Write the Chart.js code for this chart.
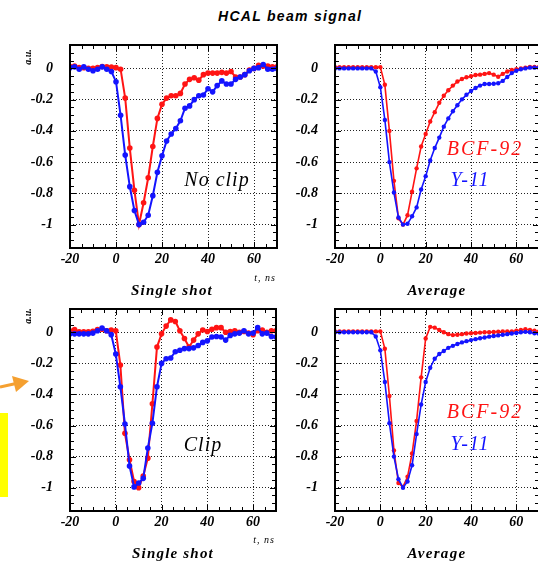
<!DOCTYPE html>
<html>
<head>
<meta charset="utf-8">
<script src="https://cdn.jsdelivr.net/npm/chart.js@4/dist/chart.umd.min.js"></script>
<style>
  html, body { margin: 0; padding: 0; background: #fff; }
  body { width: 538px; height: 563px; position: relative; overflow: hidden; }
  canvas { position: absolute; }
  .txt { position: absolute; white-space: nowrap; transform: translate(-50%, -50%); line-height: 1; }
  .serif { font-family: "Liberation Serif", "Times New Roman", serif; font-style: italic; }
</style>
</head>
<body>
<div class="txt" style="left:218px;top:16px;transform:translate(0,-50%);font:italic bold 14px 'Liberation Sans',Arial,sans-serif;letter-spacing:1.3px;">HCAL beam signal</div>

<canvas id="c-tl"></canvas>
<canvas id="c-tr"></canvas>
<canvas id="c-bl"></canvas>
<canvas id="c-br"></canvas>

<!-- textos de los paneles -->
<div class="txt serif" style="left:28px;top:57px;font-size:10px;font-weight:bold;transform:translate(-50%,-50%) rotate(-90deg);">a.u.</div>
<div class="txt serif" style="left:265px;top:278px;font-size:10px;letter-spacing:1px;">t, ns</div>
<div class="txt serif" style="left:172px;top:290px;font-size:15px;font-weight:bold;letter-spacing:1.2px;">Single shot</div>
<div class="txt serif" style="left:437px;top:290px;font-size:15px;font-weight:bold;letter-spacing:1.3px;">Average</div>
<div class="txt serif" style="left:217px;top:179px;font-size:20px;letter-spacing:1px;">No clip</div>
<div class="txt serif" style="left:485px;top:148px;font-size:20px;letter-spacing:2px;color:#ff1414;">BCF-92</div>
<div class="txt serif" style="left:470px;top:179px;font-size:20px;letter-spacing:1px;color:#1414ff;">Y-11</div>

<div class="txt serif" style="left:28px;top:316px;font-size:10px;font-weight:bold;transform:translate(-50%,-50%) rotate(-90deg);">a.u.</div>
<div class="txt serif" style="left:264px;top:540px;font-size:10px;letter-spacing:1px;">t, ns</div>
<div class="txt serif" style="left:173px;top:553px;font-size:15px;font-weight:bold;letter-spacing:1.2px;">Single shot</div>
<div class="txt serif" style="left:437px;top:553px;font-size:15px;font-weight:bold;letter-spacing:1.3px;">Average</div>
<div class="txt serif" style="left:203px;top:444px;font-size:20px;letter-spacing:1px;">Clip</div>
<div class="txt serif" style="left:485px;top:411px;font-size:20px;letter-spacing:2px;color:#ff1414;">BCF-92</div>
<div class="txt serif" style="left:470px;top:443px;font-size:20px;letter-spacing:1px;color:#1414ff;">Y-11</div>

<!-- restos de la diapositiva: flecha naranja y recuadro amarillo -->
<svg style="position:absolute;left:0;top:370px;" width="32" height="30">
  <line x1="0" y1="17" x2="16" y2="13.5" stroke="#f5a030" stroke-width="3"/>
  <polygon points="12,6 29,11 16,22" fill="#f5a030"/>
</svg>
<div style="position:absolute;left:0;top:413px;width:8px;height:84px;background:#ffff00;"></div>

<script>
// tiempo en ns (muestras cada 2 ns)
const timeNs = [-20, -18, -16, -14, -12, -10, -8, -6, -4, -2, 0, 2, 4, 6, 8, 10, 12, 14, 16, 18,
                20, 22, 24, 26, 28, 30, 32, 34, 36, 38, 40, 42, 44, 46, 48, 50, 52, 54, 56, 58,
                60, 62, 64, 66, 68, 70];

// No clip, single shot
const noClipShotBCF92 = [0.012, 0.015, 0.005, 0.005, 0, 0, 0.005, 0.012, 0.01, 0.008, 0.005, -0.005, -0.19, -0.51, -0.78, -1.0, -0.86, -0.70, -0.50, -0.32,
                         -0.23, -0.19, -0.175, -0.175, -0.16, -0.10, -0.07, -0.06, -0.075, -0.04, -0.03, -0.03, -0.03, -0.025, -0.03, -0.02, -0.055, -0.055, -0.04, -0.01,
                         0, 0.02, 0.015, 0.015, 0.01, 0.01];
const noClipShotY11 = [0.005, 0.01, -0.005, 0.01, -0.005, -0.015, -0.005, 0.01, -0.005, -0.02, -0.085, -0.30, -0.555, -0.757, -0.91, -1.0, -0.985, -0.94, -0.815, -0.665,
                       -0.56, -0.465, -0.42, -0.385, -0.335, -0.255, -0.24, -0.20, -0.175, -0.17, -0.13, -0.15, -0.11, -0.08, -0.10, -0.10, -0.07, -0.055, -0.04, -0.015,
                       0, 0.005, 0.025, -0.005, -0.005, 0];

// No clip, average
const noClipAvgBCF92 = [0.008, 0.008, 0.008, 0.008, 0.008, 0.008, 0.008, 0.008, 0.008, 0.008, 0.008, -0.105, -0.40, -0.72, -0.96, -1.0, -0.94, -0.79, -0.64, -0.50,
                        -0.42, -0.34, -0.28, -0.22, -0.175, -0.14, -0.11, -0.084, -0.068, -0.057, -0.05, -0.042, -0.04, -0.035, -0.03, -0.04, -0.053, -0.035, -0.02, -0.01,
                        -0.005, 0, 0.005, 0.01, 0.01, 0.01];
const noClipAvgY11 = [0, 0, 0, 0, 0, 0, 0, 0, 0, -0.02, -0.12, -0.33, -0.60, -0.795, -0.955, -1.0, -0.995, -0.947, -0.89, -0.775,
                      -0.69, -0.59, -0.51, -0.443, -0.373, -0.32, -0.274, -0.236, -0.198, -0.169, -0.145, -0.125, -0.11, -0.10, -0.10, -0.098, -0.095, -0.08, -0.055, -0.03,
                      -0.015, -0.005, 0, 0.005, 0.005, 0.005];

// Clip, single shot
const clipShotBCF92 = [0.01, 0.017, 0.004, 0.004, 0.004, 0.006, 0.017, 0.02, 0.01, 0.015, 0.01, -0.21, -0.65, -0.82, -0.96, -1.0, -0.925, -0.81, -0.46, -0.095,
                       -0.01, 0.04, 0.08, 0.07, 0.01, -0.04, -0.095, -0.05, -0.01, 0.015, 0.005, 0.02, 0.03, 0.03, 0, 0.005, 0.01, 0, 0.005, -0.005,
                       -0.015, 0.01, 0.015, 0, 0.01, 0.01];
const clipShotY11 = [-0.01, -0.01, -0.01, -0.01, -0.01, -0.005, 0.01, 0.027, 0.01, -0.015, -0.14, -0.35, -0.59, -0.86, -0.995, -0.97, -0.94, -0.745, -0.585, -0.35,
                     -0.2, -0.17, -0.165, -0.125, -0.115, -0.105, -0.105, -0.1, -0.085, -0.065, -0.055, -0.03, -0.027, -0.03, -0.05, -0.02, -0.01, -0.005, 0.01, -0.01,
                     -0.005, 0.03, -0.01, -0.005, -0.027, -0.03];

// Clip, average
const clipAvgBCF92 = [0.006, 0.006, 0.006, 0.006, 0.006, 0.006, 0.006, 0.006, 0.006, 0.006, 0.006, -0.106, -0.41, -0.76, -0.97, -0.995, -0.93, -0.78, -0.57, -0.29,
                      -0.04, 0.035, 0.03, 0.015, 0, -0.012, -0.018, -0.016, -0.012, -0.008, -0.006, -0.004, -0.002, 0, 0, 0.002, 0.004, 0.005, 0.005, 0.005,
                      0.01, 0.015, 0.02, 0.015, 0.01, 0.005];
const clipAvgY11 = [0, 0, 0, 0, 0, 0, 0, 0, 0, -0.027, -0.116, -0.32, -0.585, -0.80, -0.945, -1.0, -0.96, -0.856, -0.655, -0.465,
                    -0.32, -0.228, -0.17, -0.14, -0.12, -0.10, -0.087, -0.075, -0.065, -0.057, -0.05, -0.044, -0.038, -0.033, -0.028, -0.024, -0.02, -0.016, -0.012, -0.008,
                    -0.004, 0, 0.003, 0, -0.006, -0.01];

// etiquetas de los ejes
const xTickValues = [-20, 0, 20, 40, 60];
const yTickValues = [0, -0.2, -0.4, -0.6, -0.8, -1];

const RED = "#ff1414";
const BLUE = "#1414ff";
const Y_AXIS_W = 62;
const X_AXIS_H = 28;
const PAD_TOP = 2;
const PAD_RIGHT = 10;

const tickFont = { family: "'Liberation Serif', 'Times New Roman', serif", size: 14, weight: "bold", style: "italic" };

// marco negro + marcas menores hacia adentro (como en PAW)
const marcoPlugin = {
    id: "marco",
    afterDraw(chart) {
        const { ctx, chartArea: a, scales } = chart;
        const sx = scales.x, sy = scales.y;
        ctx.save();
        ctx.strokeStyle = "#000";
        ctx.lineWidth = 1;
        ctx.setLineDash([]);
        ctx.beginPath();
        for (let v = -20; v <= 70; v += 5) {
            const px = Math.round(sx.getPixelForValue(v)) + 0.5;
            const len = v % 20 === 0 ? 6 : 4;
            ctx.moveTo(px, a.bottom); ctx.lineTo(px, a.bottom - len);
            ctx.moveTo(px, a.top); ctx.lineTo(px, a.top + len);
        }
        for (let k = -23; k <= 3; k++) {
            const v = k * 0.05;
            const py = Math.round(sy.getPixelForValue(v)) + 0.5;
            const len = k % 4 === 0 ? 6 : 4;
            ctx.moveTo(a.left, py); ctx.lineTo(a.left + len, py);
            ctx.moveTo(a.right, py); ctx.lineTo(a.right - len, py);
        }
        ctx.stroke();
        ctx.lineWidth = 2;
        ctx.strokeRect(a.left, a.top, a.right - a.left, a.bottom - a.top);
        ctx.restore();
    }
};

const serie = (ys) => timeNs.map((t, i) => ({ x: t, y: ys[i] }));

// quitar el relleno automático que Chart.js añade por las etiquetas
const sinRelleno = (s) => { s.paddingTop = 0; s.paddingBottom = 0; s.paddingLeft = 0; s.paddingRight = 0; };

function crearPanel(id, area, rojo, azul, radio, grosor) {
    const canvas = document.getElementById(id);
    const w = Y_AXIS_W + (area.r - area.l) + PAD_RIGHT;
    const h = PAD_TOP + (area.b - area.t) + X_AXIS_H;
    canvas.width = w;
    canvas.height = h;
    canvas.style.width = w + "px";
    canvas.style.height = h + "px";
    canvas.style.left = (area.l - Y_AXIS_W) + "px";
    canvas.style.top = (area.t - PAD_TOP) + "px";

    const ds = (label, ys, color) => ({
        label,
        data: serie(ys),
        borderColor: color,
        backgroundColor: color,
        pointBackgroundColor: color,
        pointBorderWidth: 0,
        pointRadius: radio,
        borderWidth: grosor,
        tension: 0
    });

    new Chart(canvas.getContext("2d"), {
        type: "line",
        data: {
            datasets: [ds("Y-11", azul, BLUE), ds("BCF-92", rojo, RED)]
        },
        options: {
            responsive: false,
            animation: false,
            devicePixelRatio: 1,
            layout: { padding: { top: PAD_TOP, right: PAD_RIGHT, left: 0, bottom: 0 } },
            plugins: { legend: { display: false }, tooltip: { enabled: false } },
            scales: {
                x: {
                    type: "linear",
                    min: -20,
                    max: 70,
                    afterBuildTicks: (s) => { s.ticks = xTickValues.map(v => ({ value: v })); },
                    afterFit: (s) => { s.height = X_AXIS_H; sinRelleno(s); },
                    ticks: { font: tickFont, color: "#000", padding: 3, maxRotation: 0, autoSkip: false,
                             callback: (v) => String(v) },
                    grid: { color: "#222", lineWidth: 1, drawTicks: false },
                    border: { display: false, dash: [1, 2] }
                },
                y: {
                    min: -1.15,
                    max: 0.15,
                    afterBuildTicks: (s) => { s.ticks = yTickValues.map(v => ({ value: v })); },
                    afterFit: (s) => { s.width = Y_AXIS_W; sinRelleno(s); },
                    ticks: { font: tickFont, color: "#000", padding: 17, autoSkip: false,
                             callback: (v) => String(v) },
                    grid: { color: "#222", lineWidth: 1, drawTicks: false },
                    border: { display: false, dash: [1, 2] }
                }
            }
        },
        plugins: [marcoPlugin]
    });
}

crearPanel("c-tl", { l: 70, t: 43, r: 277, b: 248 }, noClipShotBCF92, noClipShotY11, 2.8, 2);
crearPanel("c-tr", { l: 335, t: 43, r: 539, b: 248 }, noClipAvgBCF92, noClipAvgY11, 2.2, 1.6);
crearPanel("c-bl", { l: 70, t: 307, r: 276, b: 511 }, clipShotBCF92, clipShotY11, 2.8, 2);
crearPanel("c-br", { l: 335, t: 307, r: 539, b: 511 }, clipAvgBCF92, clipAvgY11, 2.2, 1.6);
</script>
</body>
</html>
